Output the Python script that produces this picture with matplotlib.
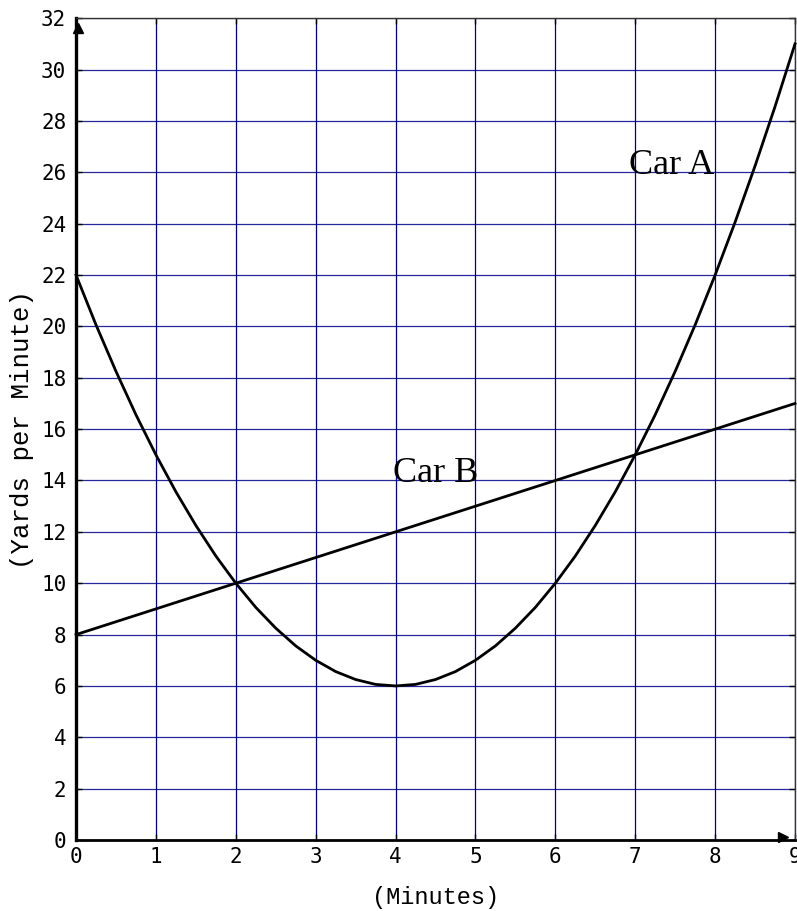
import matplotlib.pyplot as plt
import numpy as np

# speed readings (yards per minute) against time (minutes)
minutes_a = [0, 0.25, 0.5, 0.75, 1, 1.25, 1.5, 1.75, 2, 2.25, 2.5, 2.75, 3, 3.25, 3.5, 3.75,
             4, 4.25, 4.5, 4.75, 5, 5.25, 5.5, 5.75, 6, 6.25, 6.5, 6.75, 7, 7.25, 7.5, 7.75,
             8, 8.25, 8.5, 8.75, 9]
speed_a = [22, 20.06, 18.25, 16.56, 15, 13.56, 12.25, 11.06, 10, 9.06, 8.25, 7.56, 7, 6.56, 6.25, 6.06,
           6, 6.06, 6.25, 6.56, 7, 7.56, 8.25, 9.06, 10, 11.06, 12.25, 13.56, 15, 16.56, 18.25, 20.06,
           22, 24.06, 26.25, 28.56, 31]
minutes_b = [0, 9]
speed_b = [8, 17]

x_ticks = list(range(0, 10))
y_ticks = list(range(0, 33, 2))

GRID = "#00008c"
TICK_FONT = "DejaVu Sans Mono"
LABEL_FONT = "Liberation Mono"
NOTE_FONT = "Liberation Serif"

fig = plt.figure(figsize=(7.97, 9.11), dpi=100)
ax = fig.add_axes([0.0954, 0.0779, 0.9021, 0.9021])

ax.set_xlim(0, 9)
ax.set_ylim(0, 32)

for x in x_ticks[1:]:
    ax.axvline(x, color=GRID, lw=0.9, zorder=1)
for y in y_ticks[1:]:
    ax.axhline(y, color=GRID, lw=0.9, alpha=0.85, zorder=1)

ax.plot(minutes_a, speed_a, color="black", lw=2.0, zorder=3, clip_on=False)
ax.plot(minutes_b, speed_b, color="black", lw=2.0, zorder=3, clip_on=False)

ax.text(6.92, 25.95, "Car A", fontsize=26, family=NOTE_FONT, ha="left", va="baseline", zorder=4)
ax.text(3.97, 13.95, "Car B", fontsize=26, family=NOTE_FONT, ha="left", va="baseline", zorder=4)

ax.set_xticks(x_ticks)
ax.set_yticks(y_ticks)
ax.tick_params(axis="both", which="major", labelsize=15, direction="in", length=4,
               width=1, top=True, right=True)
ax.tick_params(axis="x", pad=5)
ax.tick_params(axis="y", pad=7)
for lab in ax.get_xticklabels() + ax.get_yticklabels():
    lab.set_family(TICK_FONT)

ax.spines["left"].set_linewidth(2.4)
ax.spines["bottom"].set_linewidth(2.0)
ax.spines["top"].set_linewidth(1.0)
ax.spines["right"].set_linewidth(1.0)
ax.spines["top"].set_color("#333333")
ax.spines["right"].set_color("#333333")

# small arrowheads at the ends of the axes
ax.plot([0.03], [31.6], marker="^", ms=7, color="black", clip_on=False, zorder=5)
ax.plot([8.85], [0.12], marker=">", ms=7, color="black", clip_on=False, zorder=5)

ax.set_xlabel("(Minutes)", fontsize=17, family=LABEL_FONT, labelpad=14)
ax.set_ylabel("(Yards per Minute)", fontsize=18.5, family=LABEL_FONT, labelpad=5)

fig.savefig("out.png", dpi=100)
